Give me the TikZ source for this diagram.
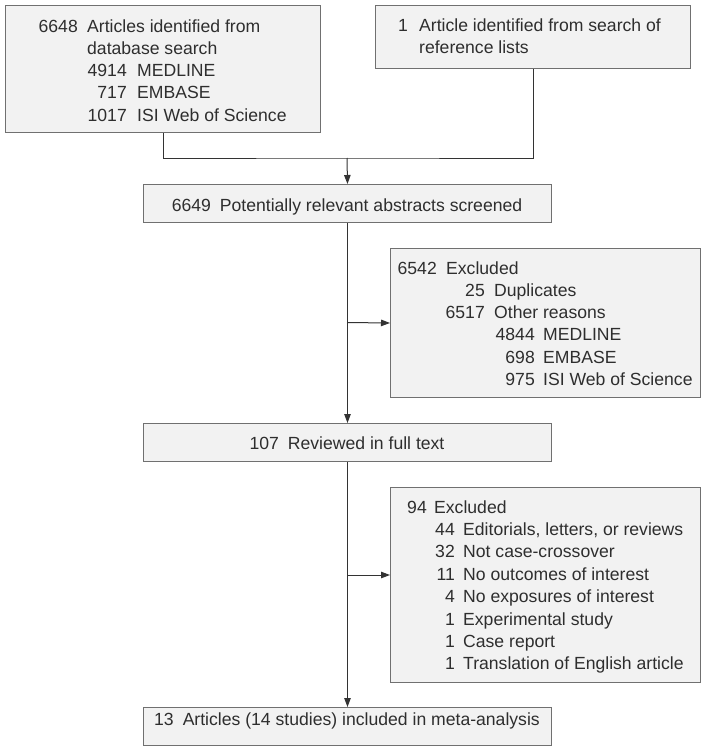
\documentclass[tikz,border=0pt]{standalone}
\usepackage{fontspec}
\setmainfont{Liberation Sans}
\usetikzlibrary{arrows.meta}
\definecolor{boxfill}{HTML}{F2F2F2}
\definecolor{boxline}{HTML}{707070}
\definecolor{linecol}{HTML}{333333}
\definecolor{txtcol}{HTML}{2E2E2E}
\begin{document}
\begin{tikzpicture}[x=1pt,y=-1pt,
  box/.style={draw=boxline, fill=boxfill, line width=1pt, anchor=north west, inner sep=0pt},
  txt/.style={font=\fontsize{17.6}{22}\selectfont, text=txtcol, inner sep=0pt},
  numr/.style={txt, anchor=base east},
  labl/.style={txt, anchor=base west},
  ctr/.style={txt, anchor=base},
  conn/.style={draw=linecol, line width=1pt},
  arr/.style={conn, -{Triangle[length=9pt,width=6.5pt]}}]
\useasboundingbox (0,0) rectangle (705,750);

% boxes
\node[box, minimum width=315pt, minimum height=127pt] (b1) at (5,5) {};
\node[box, minimum width=315pt, minimum height=63pt] (b2) at (375,5) {};
\node[box, minimum width=408pt, minimum height=38pt] (b3) at (143,184) {};
\node[box, minimum width=310pt, minimum height=149pt] (x1) at (390,248) {};
\node[box, minimum width=408pt, minimum height=38pt] (b4) at (143,423) {};
\node[box, minimum width=310pt, minimum height=195pt] (x2) at (390,487) {};
\node[box, minimum width=408pt, minimum height=38pt] (b6) at (143,707) {};

% box 1 text
\node[numr] (t1n) at (78,32) {6648};
\node[labl] (t1a) at (87,32) {Articles identified from};
\node[labl] (t1b) at (87,54.3) {database search};
\node[numr] (t1cn) at (127,76.6) {4914};
\node[labl] (t1c) at (137,76.6) {MEDLINE};
\node[numr] (t1dn) at (127,98.9) {717};
\node[labl] (t1d) at (137,98.9) {EMBASE};
\node[numr] (t1en) at (127,121.2) {1017};
\node[labl] (t1e) at (137,121.2) {ISI Web of Science};

% box 2 text
\node[numr] (t2n) at (408,31) {1};
\node[labl] (t2a) at (419,31) {Article identified from search of};
\node[labl] (t2b) at (419,53.3) {reference lists};

% box 3 text
\node[ctr] (t3) at (347,211) {6649\hspace{9pt}Potentially relevant abstracts screened};

% exclusion 1 text
\node[numr] (u1n) at (437,274) {6542};
\node[labl] (u1) at (446,274) {Excluded};
\node[numr] (u2n) at (485,296.3) {25};
\node[labl] (u2) at (494,296.3) {Duplicates};
\node[numr] (u3n) at (485,318.6) {6517};
\node[labl] (u3) at (494,318.6) {Other reasons};
\node[numr] (u4n) at (535,340.9) {4844};
\node[labl] (u4) at (543,340.9) {MEDLINE};
\node[numr] (u5n) at (535,363.2) {698};
\node[labl] (u5) at (543,363.2) {EMBASE};
\node[numr] (u6n) at (535,385.5) {975};
\node[labl] (u6) at (543,385.5) {ISI Web of Science};

% box 4 text
\node[ctr] (t4) at (347,449) {107\hspace{9pt}Reviewed in full text};

% exclusion 2 text
\node[numr] (v1n) at (427,513) {94};
\node[labl] (v1) at (434,513) {Excluded};
\node[numr] (v2n) at (455,535.4) {44};
\node[labl] (v2) at (463,535.4) {Editorials, letters, or reviews};
\node[numr] (v3n) at (455,557.8) {32};
\node[labl] (v3) at (463,557.8) {Not case-crossover};
\node[numr] (v4n) at (455,580.2) {11};
\node[labl] (v4) at (463,580.2) {No outcomes of interest};
\node[numr] (v5n) at (455,602.6) {4};
\node[labl] (v5) at (463,602.6) {No exposures of interest};
\node[numr] (v6n) at (455,625) {1};
\node[labl] (v6) at (463,625) {Experimental study};
\node[numr] (v7n) at (455,647.4) {1};
\node[labl] (v7) at (463,647.4) {Case report};
\node[numr] (v8n) at (455,669.8) {1};
\node[labl] (v8) at (463,669.8) {Translation of English article};

% box 6 text
\node[ctr] (t6) at (347,725) {13\hspace{9pt}Articles (14 studies) included in meta-analysis};

% connectors
\coordinate (j1) at (347,158);
\coordinate (c1) at (347,322.5);
\coordinate (c2) at (347,575);
\draw[conn] (b1.south) |- (j1) -| (b2.south);
\draw[arr] (j1) -- (b3.north);
\draw[arr] (b3.south) -- (b4.north);
\draw[arr] (c1) -- (x1.west);
\draw[arr] (b4.south) -- (b6.north);
\draw[arr] (c2) -- (c2 -| x2.west);
\end{tikzpicture}
\end{document}
